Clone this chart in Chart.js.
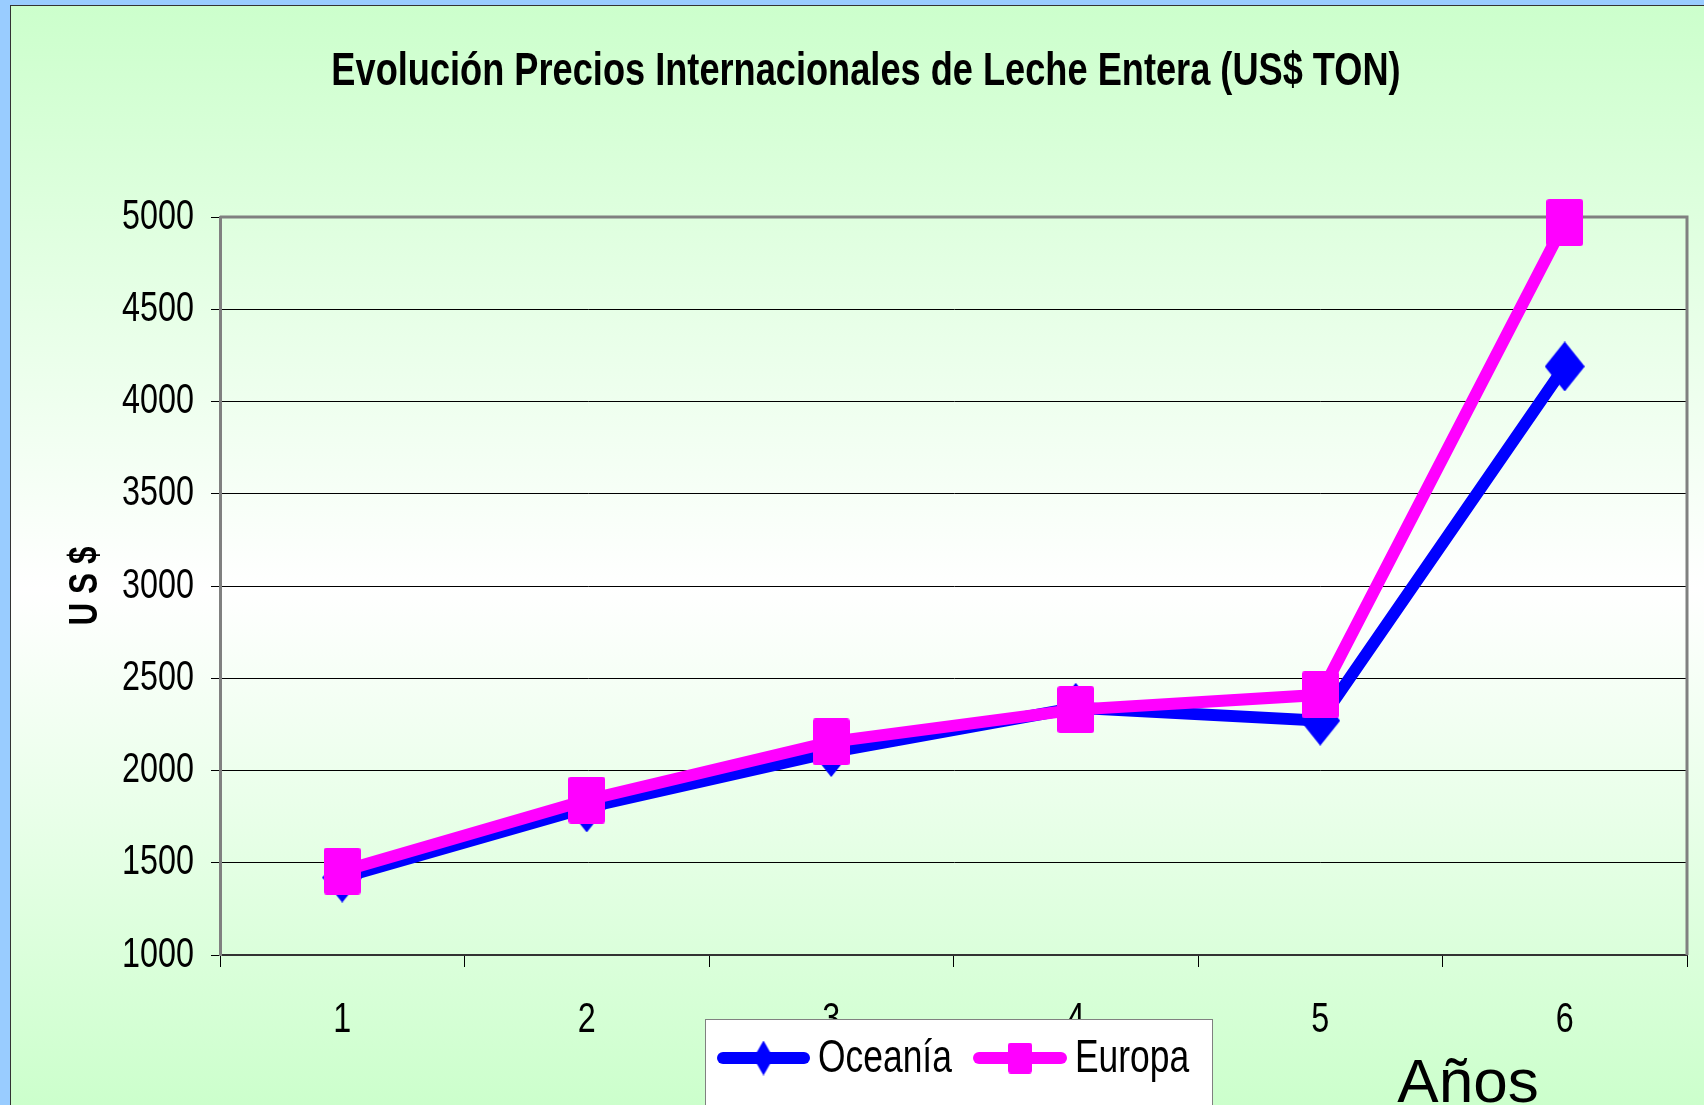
<!DOCTYPE html>
<html>
<head>
<meta charset="utf-8">
<script src="https://cdn.jsdelivr.net/npm/chart.js@4.4.1/dist/chart.umd.min.js"></script>
<style>
  html, body { margin: 0; padding: 0; background: #99ccff; }
  #wrap { width: 1704px; height: 1105px; position: relative; }
</style>
</head>
<body>
<div id="wrap"><canvas id="milk-chart" width="1704" height="1105"></canvas></div>
<script>
// data
const years = ['1', '2', '3', '4', '5', '6'];
const seriesNames = ['Oceanía', 'Europa'];
const oceania = [1420, 1800, 2100, 2340, 2270, 4190];
const europa = [1455, 1840, 2155, 2330, 2410, 4970];
const yMin = 1000;
const yMax = 5000;
const yStep = 500;

// no Arial Narrow here: text in the "ChartNarrow" family is drawn with
// Liberation Sans squeezed horizontally
const narrow = "ChartNarrow, 'Liberation Sans', Arial, sans-serif";
const SX = 0.77;
const BLUE = '#0000ff';
const PINK = '#ff00ff';

const canvas = document.getElementById('milk-chart');
const ctx2d = canvas.getContext('2d');
const rawFill = ctx2d.fillText.bind(ctx2d);
const rawMeasure = ctx2d.measureText.bind(ctx2d);
const isNarrow = () => ctx2d.font.indexOf('ChartNarrow') !== -1;
ctx2d.fillText = function (text, x, y, maxWidth) {
  if (!isNarrow()) {
    return maxWidth === undefined ? rawFill(text, x, y) : rawFill(text, x, y, maxWidth);
  }
  ctx2d.save();
  ctx2d.translate(x, y);
  ctx2d.scale(SX, 1);
  if (maxWidth === undefined) rawFill(text, 0, 0);
  else rawFill(text, 0, 0, maxWidth / SX);
  ctx2d.restore();
};
ctx2d.measureText = function (text) {
  const m = rawMeasure(text);
  if (!isNarrow()) return m;
  return {
    width: m.width * SX,
    actualBoundingBoxAscent: m.actualBoundingBoxAscent,
    actualBoundingBoxDescent: m.actualBoundingBoxDescent,
    actualBoundingBoxLeft: m.actualBoundingBoxLeft * SX,
    actualBoundingBoxRight: m.actualBoundingBoxRight * SX
  };
};

// marker images (the original markers are a bit taller than wide)
function squareMarker(w, h, color) {
  const c = document.createElement('canvas');
  c.width = w; c.height = h;
  const ctx = c.getContext('2d');
  ctx.fillStyle = color;
  ctx.beginPath();
  ctx.roundRect(0, 0, w, h, 3);
  ctx.fill();
  return c;
}
function diamondMarker(w, h, color) {
  const c = document.createElement('canvas');
  c.width = w; c.height = h;
  const ctx = c.getContext('2d');
  ctx.fillStyle = color;
  ctx.beginPath();
  ctx.moveTo(w / 2, 0);
  ctx.lineTo(w, h / 2);
  ctx.lineTo(w / 2, h);
  ctx.lineTo(0, h / 2);
  ctx.closePath();
  ctx.fill();
  return c;
}

// page background, panel gradient and plot frame
const backdrop = {
  id: 'backdrop',
  beforeDraw(chart) {
    const ctx = chart.ctx;
    const W = chart.width, H = chart.height;
    ctx.save();
    ctx.fillStyle = '#99ccff';
    ctx.fillRect(0, 0, W, H);
    const g = ctx.createLinearGradient(0, 6, 0, H);
    g.addColorStop(0, '#ccffcc');
    g.addColorStop(0.53, '#ffffff');
    g.addColorStop(1, '#ccffcc');
    ctx.fillStyle = g;
    ctx.fillRect(11, 6, W - 11, H - 6);
    ctx.fillStyle = '#333333';
    ctx.fillRect(10, 5, 1, H - 5);
    ctx.fillRect(10, 5, W - 10, 1);
    ctx.restore();
  },
  beforeDatasetsDraw(chart) {
    const {ctx, chartArea: a} = chart;
    ctx.save();
    ctx.strokeStyle = '#808080';
    ctx.lineWidth = 3;
    ctx.beginPath();
    ctx.moveTo(a.left, a.top);
    ctx.lineTo(a.right, a.top);
    ctx.lineTo(a.right, a.bottom);
    ctx.stroke();
    ctx.restore();
  }
};

// Excel-like legend box and the "Años" caption
const extras = {
  id: 'extras',
  afterDraw(chart) {
    const ctx = chart.ctx;
    ctx.save();
    ctx.fillStyle = '#ffffff';
    ctx.fillRect(705, 1019, 507, 100);
    ctx.strokeStyle = '#808080';
    ctx.lineWidth = 1;
    ctx.strokeRect(705.5, 1019.5, 507, 100);

    const items = [
      {name: seriesNames[0], color: BLUE, x0: 717, x1: 810, marker: diamondMarker(20, 35, BLUE), tx: 818},
      {name: seriesNames[1], color: PINK, x0: 973, x1: 1067, marker: squareMarker(24, 31, PINK), tx: 1075}
    ];
    const ly = 1058;
    items.forEach(it => {
      ctx.strokeStyle = it.color;
      ctx.lineWidth = 12;
      ctx.lineCap = 'round';
      ctx.beginPath();
      ctx.moveTo(it.x0 + 6, ly);
      ctx.lineTo(it.x1 - 6, ly);
      ctx.stroke();
      const cx = (it.x0 + it.x1) / 2;
      ctx.drawImage(it.marker, cx - it.marker.width / 2, ly - it.marker.height / 2);
      ctx.fillStyle = '#000';
      ctx.font = '46px ' + narrow;
      ctx.textAlign = 'left';
      ctx.textBaseline = 'alphabetic';
      ctx.fillText(it.name, it.tx, 1072);
    });

    ctx.font = "62px 'Liberation Sans', Arial, sans-serif";
    ctx.textAlign = 'center';
    ctx.fillStyle = '#000';
    ctx.fillText('Años', 1468, 1102);
    ctx.restore();
  }
};

const chart = new Chart(ctx2d, {
  type: 'line',
  data: {
    labels: years,
    datasets: [{
      label: seriesNames[0],
      data: oceania,
      borderColor: BLUE,
      backgroundColor: BLUE,
      borderWidth: 12,
      pointStyle: diamondMarker(40, 50, BLUE),
      pointRadius: 25,
      tension: 0,
      clip: false,
      order: 1
    }, {
      label: seriesNames[1],
      data: europa,
      borderColor: PINK,
      backgroundColor: PINK,
      borderWidth: 12,
      pointStyle: squareMarker(37, 47, PINK),
      pointRadius: 24,
      tension: 0,
      clip: false,
      order: 0
    }]
  },
  options: {
    responsive: false,
    animation: false,
    layout: { autoPadding: false, padding: { left: 45, right: 17, top: 0, bottom: 0 } },
    plugins: {
      legend: { display: false },
      tooltip: { enabled: false },
      title: {
        display: true,
        text: 'Evolución Precios Internacionales de Leche Entera (US$ TON)',
        color: '#000',
        font: { family: narrow, size: 47, weight: 'bold', lineHeight: 1.2 },
        padding: { top: 44, bottom: 116.6 }
      }
    },
    scales: {
      x: {
        offset: true,
        afterFit: scale => {
          scale.height = 150;
          scale.paddingLeft = 0;
          scale.paddingRight = 0;
        },
        grid: { offset: true, drawOnChartArea: false, tickLength: 12, color: '#000', lineWidth: 1 },
        border: { color: '#333', width: 2 },
        ticks: { color: '#000', padding: 28, font: { family: narrow, size: 42 } }
      },
      y: {
        min: yMin,
        max: yMax,
        afterFit: scale => { scale.width = 175; },
        grid: { color: '#000', lineWidth: 1, tickLength: 9 },
        border: { color: '#808080', width: 3 },
        ticks: {
          stepSize: yStep,
          color: '#000',
          padding: 17,
          font: { family: narrow, size: 42 },
          callback: v => String(v)
        },
        title: {
          display: true,
          text: 'U S $',
          color: '#000',
          padding: { top: 16, bottom: 0 },
          font: { family: narrow, size: 41, weight: 'bold', lineHeight: 1.2 }
        }
      }
    }
  },
  plugins: [backdrop, extras]
});
</script>
</body>
</html>
